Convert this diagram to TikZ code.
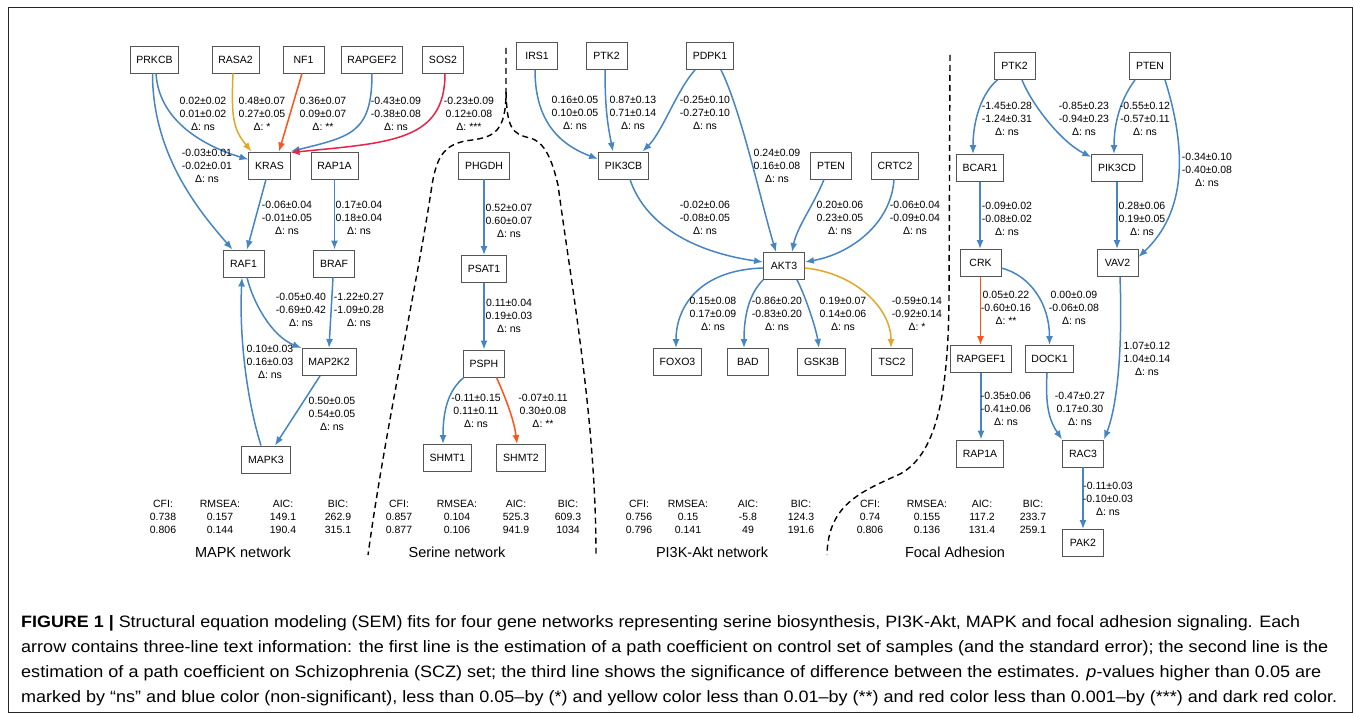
\documentclass[tikz,border=0pt]{standalone}
\usepackage{fontspec}
\usepackage{graphicx}
\setmainfont{Liberation Sans}
\usetikzlibrary{arrows.meta}
\definecolor{nsblue}{RGB}{70,132,196}
\definecolor{oneyel}{RGB}{226,166,40}
\definecolor{twored}{RGB}{255,82,24}
\definecolor{threered}{RGB}{232,34,72}
\definecolor{boxgray}{RGB}{85,85,85}
\newcommand\labfont{\fontsize{10.5}{13}\selectfont}
\newcommand\titfont{\fontsize{14.5}{17}\selectfont}
\newcommand\capfont{\fontsize{16.5}{25}\selectfont}
\begin{document}
\begin{tikzpicture}[x=1pt,y=1pt,
 gene/.style={draw=boxgray, line width=0.9pt, minimum height=27pt, minimum width=41pt, inner xsep=6.3pt, inner ysep=0pt, font=\labfont, fill=white},
 lab/.style={align=center, font=\labfont, inner sep=0pt},
 stat/.style={align=center, font=\labfont, inner sep=0pt},
 tit/.style={font=\titfont, inner sep=0pt},
 edge/.style={line width=1.5pt, -{Latex[length=9pt,width=7pt]}},
 ns/.style={edge, draw=nsblue},
 one/.style={edge, draw=oneyel},
 two/.style={edge, draw=twored},
 three/.style={edge, draw=threered},
 sep/.style={draw=black, line width=1.4pt, dash pattern=on 6pt off 4pt},
 capl/.style={anchor=base west, inner sep=0pt, font=\capfont}
]
\useasboundingbox (0,0) rectangle (1354,-714);
\draw[line width=1pt, draw=black!85] (8,-8) rectangle (1352,-712);

% ---------- MAPK ----------
\node[gene] (PRKCB) at (154.5,-59.5) {PRKCB};
\node[gene] (RASA2) at (235.5,-59.5) {RASA2};
\node[gene] (NF1) at (303.5,-59.5) {NF1};
\node[gene] (RAPGEF2) at (372,-59.5) {RAPGEF2};
\node[gene] (SOS2) at (443,-59.5) {SOS2};
\node[gene] (KRAS) at (269.5,-165.5) {KRAS};
\node[gene] (mRAP1A) at (334.5,-165.5) {RAP1A};
\node[gene] (RAF1) at (243.5,-263.5) {RAF1};
\node[gene] (BRAF) at (334,-263.5) {BRAF};
\node[gene] (MAP2K2) at (329,-362) {MAP2K2};
\node[gene] (MAPK3) at (266,-459.5) {MAPK3};

\draw[ns] ([xshift=1.5pt]PRKCB.south) .. controls +(3,-50) and +(-40,12) .. ([yshift=6pt]KRAS.west);
\draw[ns] ([xshift=-2pt]PRKCB.south) .. controls +(0,-80) and +(-35,40) .. ([xshift=-11pt]RAF1.north);
\draw[one] ([xshift=-2.5pt]RASA2.south) .. controls +(-2,-45) and +(-18,22) .. ([xshift=-18pt]KRAS.north);
\draw[two] ([xshift=-1.5pt]NF1.south) -- ([xshift=9.5pt]KRAS.north);
\draw[ns] (RAPGEF2.south) .. controls +(0,-60) and +(60,15) .. (KRAS.north east);
\draw[three] ([xshift=2pt]SOS2.south) .. controls +(0,-68) and +(100,10) .. ([yshift=-1pt]KRAS.north east);
\draw[ns] ([xshift=-3.5pt]KRAS.south) -- ([xshift=3.5pt]RAF1.north);
\draw[ns] (mRAP1A.south) -- (mRAP1A.south |- BRAF.north);
\draw[ns] ([xshift=3.5pt]RAF1.south) .. controls +(6,-25) and +(-30,12) .. (MAP2K2.north west);
\draw[ns] ([xshift=-1pt]BRAF.south) -- (MAP2K2.north);
\draw[ns] ([xshift=-9pt]MAP2K2.south) -- ([xshift=9pt]MAPK3.north);
\draw[ns] ([xshift=-5pt]MAPK3.north) .. controls +(-14,45) and +(-3,-60) .. ([xshift=-1.5pt]RAF1.south);

\node[lab] (m1) at (203,-114) {0.02±0.02\\0.01±0.02\\Δ: ns};
\node[lab] (m2) at (262,-114) {0.48±0.07\\0.27±0.05\\Δ: *};
\node[lab] (m3) at (323,-114) {0.36±0.07\\0.09±0.07\\Δ: **};
\node[lab] (m4) at (396,-114) {-0.43±0.09\\-0.38±0.08\\Δ: ns};
\node[lab] (m5) at (469,-114) {-0.23±0.09\\0.12±0.08\\Δ: ***};
\node[lab] (m6) at (207,-166) {-0.03±0.01\\-0.02±0.01\\Δ: ns};
\node[lab] (m7) at (287,-218) {-0.06±0.04\\-0.01±0.05\\Δ: ns};
\node[lab] (m8) at (359,-218) {0.17±0.04\\0.18±0.04\\Δ: ns};
\node[lab] (m9) at (301,-310) {-0.05±0.40\\-0.69±0.42\\Δ: ns};
\node[lab] (m10) at (359,-310) {-1.22±0.27\\-1.09±0.28\\Δ: ns};
\node[lab] (m11) at (270,-362) {0.10±0.03\\0.16±0.03\\Δ: ns};
\node[lab] (m12) at (332,-414) {0.50±0.05\\0.54±0.05\\Δ: ns};

% ---------- Serine ----------
\node[gene] (PHGDH) at (484,-165.5) {PHGDH};
\node[gene] (PSAT1) at (484,-269) {PSAT1};
\node[gene] (PSPH) at (484,-363.5) {PSPH};
\node[gene] (SHMT1) at (447.5,-458) {SHMT1};
\node[gene] (SHMT2) at (521,-458) {SHMT2};

\draw[ns] (PHGDH.south) -- (PHGDH.south |- PSAT1.north);
\draw[ns] (PSAT1.south) -- (PSAT1.south |- PSPH.north);
\draw[ns] ([xshift=1pt]PSPH.south west) .. controls +(-15,-12) and +(0,35) .. ([xshift=-4.5pt]SHMT1.north);
\draw[two] ([xshift=12.5pt]PSPH.south) .. controls +(8,-18) and +(-3,25) .. ([xshift=-4pt]SHMT2.north);

\node[lab] (s1) at (509,-221) {0.52±0.07\\0.60±0.07\\Δ: ns};
\node[lab] (s2) at (509,-316) {0.11±0.04\\0.19±0.03\\Δ: ns};
\node[lab] (s3) at (476,-411) {-0.11±0.15\\0.11±0.11\\Δ: ns};
\node[lab] (s4) at (543,-411) {-0.07±0.11\\0.30±0.08\\Δ: **};

% ---------- PI3K-Akt ----------
\node[gene] (IRS1) at (537,-56) {IRS1};
\node[gene] (pPTK2) at (606.5,-56) {PTK2};
\node[gene] (PDPK1) at (710,-56) {PDPK1};
\node[gene] (PIK3CB) at (623.5,-165.5) {PIK3CB};
\node[gene] (pPTEN) at (831,-165.5) {PTEN};
\node[gene] (CRTC2) at (895,-165.5) {CRTC2};
\node[gene] (AKT3) at (784,-266) {AKT3};
\node[gene] (FOXO3) at (677.5,-362) {FOXO3};
\node[gene] (BAD) at (748,-362) {BAD};
\node[gene] (GSK3B) at (821.5,-362) {GSK3B};
\node[gene] (TSC2) at (892,-362) {TSC2};

\draw[ns] ([xshift=-2pt]IRS1.south) .. controls +(0,-50) and +(-40,15) .. ([yshift=6.5pt]PIK3CB.west);
\draw[ns] ([xshift=-1.5pt]pPTK2.south) .. controls +(0,-40) and +(-5,25) .. ([xshift=-10.5pt]PIK3CB.north);
\draw[ns] ([xshift=-15pt]PDPK1.south) .. controls +(-18,-20) and +(20,20) .. ([xshift=19pt]PIK3CB.north);
\draw[ns] ([xshift=11pt]PDPK1.south) .. controls +(20,-40) and +(-15,50) .. ([xshift=-8pt]AKT3.north);
\draw[ns] ([xshift=-7pt]pPTEN.south) .. controls +(-10,-25) and +(5,25) .. ([xshift=8pt]AKT3.north);
\draw[ns] ([xshift=-1pt]CRTC2.south) .. controls +(-3,-45) and +(45,8) .. ([yshift=4pt]AKT3.east);
\draw[ns] ([xshift=6.5pt]PIK3CB.south) .. controls +(15,-45) and +(-70,10) .. ([yshift=4pt]AKT3.west);
\draw[ns] ([yshift=-2pt]AKT3.west) .. controls +(-65,-2) and +(0,40) .. ([xshift=-1.5pt]FOXO3.north);
\draw[ns] (AKT3.south west) .. controls +(-15,-15) and +(0,30) .. ([xshift=-4pt]BAD.north);
\draw[ns] ([xshift=13pt]AKT3.south) .. controls +(8,-15) and +(-3,20) .. ([xshift=-2.5pt]GSK3B.north);
\draw[one] ([yshift=-2pt]AKT3.east) .. controls +(50,-5) and +(0,40) .. ([xshift=-1pt]TSC2.north);

\node[lab] (p1) at (575,-113) {0.16±0.05\\0.10±0.05\\Δ: ns};
\node[lab] (p2) at (633,-113) {0.87±0.13\\0.71±0.14\\Δ: ns};
\node[lab] (p3) at (705,-113) {-0.25±0.10\\-0.27±0.10\\Δ: ns};
\node[lab] (p4) at (777,-166) {0.24±0.09\\0.16±0.08\\Δ: ns};
\node[lab] (p5) at (705,-218) {-0.02±0.06\\-0.08±0.05\\Δ: ns};
\node[lab] (p6) at (840,-218) {0.20±0.06\\0.23±0.05\\Δ: ns};
\node[lab] (p7) at (915,-218) {-0.06±0.04\\-0.09±0.04\\Δ: ns};
\node[lab] (p8) at (713,-314) {0.15±0.08\\0.17±0.09\\Δ: ns};
\node[lab] (p9) at (777,-314) {-0.86±0.20\\-0.83±0.20\\Δ: ns};
\node[lab] (p10) at (843,-314) {0.19±0.07\\0.14±0.06\\Δ: ns};
\node[lab] (p11) at (917,-314) {-0.59±0.14\\-0.92±0.14\\Δ: *};

% ---------- Focal adhesion ----------
\node[gene] (fPTK2) at (1014.5,-66) {PTK2};
\node[gene] (fPTEN) at (1150,-66) {PTEN};
\node[gene] (BCAR1) at (980,-168) {BCAR1};
\node[gene] (PIK3CD) at (1117,-168) {PIK3CD};
\node[gene] (CRK) at (980.5,-263) {CRK};
\node[gene] (VAV2) at (1117.5,-263) {VAV2};
\node[gene] (RAPGEF1) at (981,-359) {RAPGEF1};
\node[gene] (DOCK1) at (1049.5,-359) {DOCK1};
\node[gene] (fRAP1A) at (980,-453.5) {RAP1A};
\node[gene] (RAC3) at (1083,-453.5) {RAC3};
\node[gene] (PAK2) at (1083,-543) {PAK2};

\draw[ns] ([xshift=-17pt]fPTK2.south) .. controls +(-15,-12) and +(0,35) .. ([xshift=-7pt]BCAR1.north);
\draw[ns] ([xshift=7.5pt]fPTK2.south) .. controls +(10,-25) and +(-30,15) .. ([yshift=-3pt]PIK3CD.north west);
\draw[ns] ([xshift=-15pt]fPTEN.south) .. controls +(-15,-20) and +(0,30) .. ([xshift=-3pt]PIK3CD.north);
\draw[ns] ([xshift=15pt]fPTEN.south) .. controls +(22,-70) and +(48,45) .. ([yshift=6pt]VAV2.east);
\draw[ns] (BCAR1.south) -- (BCAR1.south |- CRK.north);
\draw[ns] (PIK3CD.south) -- (PIK3CD.south |- VAV2.north);
\draw[two] (CRK.south) -- (CRK.south |- RAPGEF1.north);
\draw[ns] ([yshift=-5pt]CRK.east) .. controls +(30,-8) and +(0,40) .. (DOCK1.north);
\draw[ns] (RAPGEF1.south) -- (RAPGEF1.south |- fRAP1A.north);
\draw[ns] ([xshift=-2.5pt]DOCK1.south) .. controls +(-2,-35) and +(-12,18) .. (RAC3.north west);
\draw[ns] ([xshift=2.5pt]VAV2.south) .. controls +(3,-80) and +(12,30) .. (RAC3.north east);
\draw[ns] (RAC3.south) -- (RAC3.south |- PAK2.north);

\node[lab] (f1) at (1007,-119) {-1.45±0.28\\-1.24±0.31\\Δ: ns};
\node[lab] (f2) at (1084,-119) {-0.85±0.23\\-0.94±0.23\\Δ: ns};
\node[lab] (f3) at (1145,-119) {-0.55±0.12\\-0.57±0.11\\Δ: ns};
\node[lab] (f4) at (1207,-170) {-0.34±0.10\\-0.40±0.08\\Δ: ns};
\node[lab] (f5) at (1007,-219) {-0.09±0.02\\-0.08±0.02\\Δ: ns};
\node[lab] (f6) at (1142,-219) {0.28±0.06\\0.19±0.05\\Δ: ns};
\node[lab] (f7) at (1006,-308) {0.05±0.22\\-0.60±0.16\\Δ: **};
\node[lab] (f8) at (1074,-308) {0.00±0.09\\-0.06±0.08\\Δ: ns};
\node[lab] (f9) at (1147,-359) {1.07±0.12\\1.04±0.14\\Δ: ns};
\node[lab] (f10) at (1006,-409) {-0.35±0.06\\-0.41±0.06\\Δ: ns};
\node[lab] (f11) at (1080,-409) {-0.47±0.27\\0.17±0.30\\Δ: ns};
\node[lab] (f12) at (1108,-499) {-0.11±0.03\\-0.10±0.03\\Δ: ns};

% ---------- separators ----------
\draw[sep] (506,-48) -- (506,-92) .. controls (506,-130) and (495,-137) .. (472,-140)
  .. controls (445,-143) and (437,-155) .. (432,-185)
  .. controls (418,-280) and (385,-430) .. (368,-555);
\draw[sep] (506,-92) .. controls (507,-128) and (512,-134) .. (530,-138)
  .. controls (545,-142) and (552,-160) .. (558,-185)
  .. controls (572,-290) and (596,-420) .. (596,-555);
\draw[sep] (950,-55) -- (949,-300) .. controls (948,-400) and (935,-455) .. (900,-474)
  .. controls (860,-492) and (828,-505) .. (827,-555);

% ---------- fit statistics ----------
\node[stat] (a1) at (163,-517) {CFI:\\0.738\\0.806};
\node[stat] (a2) at (220,-517) {RMSEA:\\0.157\\0.144};
\node[stat] (a3) at (283,-517) {AIC:\\149.1\\190.4};
\node[stat] (a4) at (338,-517) {BIC:\\262.9\\315.1};
\node[tit] (ta) at (243,-552) {MAPK network};

\node[stat] (b1) at (399,-517) {CFI:\\0.857\\0.877};
\node[stat] (b2) at (457,-517) {RMSEA:\\0.104\\0.106};
\node[stat] (b3) at (516,-517) {AIC:\\525.3\\941.9};
\node[stat] (b4) at (568,-517) {BIC:\\609.3\\1034};
\node[tit] (tb) at (457,-552) {Serine network};

\node[stat] (c1) at (639,-517) {CFI:\\0.756\\0.796};
\node[stat] (c2) at (688,-517) {RMSEA:\\0.15\\0.141};
\node[stat] (c3) at (748,-517) {AIC:\\-5.8\\49};
\node[stat] (c4) at (801,-517) {BIC:\\124.3\\191.6};
\node[tit] (tc) at (712,-552) {PI3K-Akt network};

\node[stat] (d1) at (870,-517) {CFI:\\0.74\\0.806};
\node[stat] (d2) at (927,-517) {RMSEA:\\0.155\\0.136};
\node[stat] (d3) at (982,-517) {AIC:\\117.2\\131.4};
\node[stat] (d4) at (1033,-517) {BIC:\\233.7\\259.1};
\node[tit] (td) at (955,-552) {Focal Adhesion};

% ---------- caption ----------
\node[capl] (cap1) at (21,-627) {\resizebox{1279pt}{\height}{\textbf{FIGURE 1 |} Structural equation modeling (SEM) fits for four gene networks representing serine biosynthesis, PI3K-Akt, MAPK and focal adhesion signaling. Each}};
\node[capl] (cap2) at (21,-652) {\resizebox{1307pt}{\height}{arrow contains three-line text information: the first line is the estimation of a path coefficient on control set of samples (and the standard error); the second line is the}};
\node[capl] (cap3) at (21,-677) {\resizebox{1300pt}{\height}{estimation of a path coefficient on Schizophrenia (SCZ) set; the third line shows the significance of difference between the estimates. \textit{p}-values higher than 0.05 are}};
\node[capl] (cap4) at (21,-702) {\resizebox{1316pt}{\height}{marked by “ns” and blue color (non-significant), less than 0.05–by (*) and yellow color less than 0.01–by (**) and red color less than 0.001–by (***) and dark red color.}};
\end{tikzpicture}
\end{document}
